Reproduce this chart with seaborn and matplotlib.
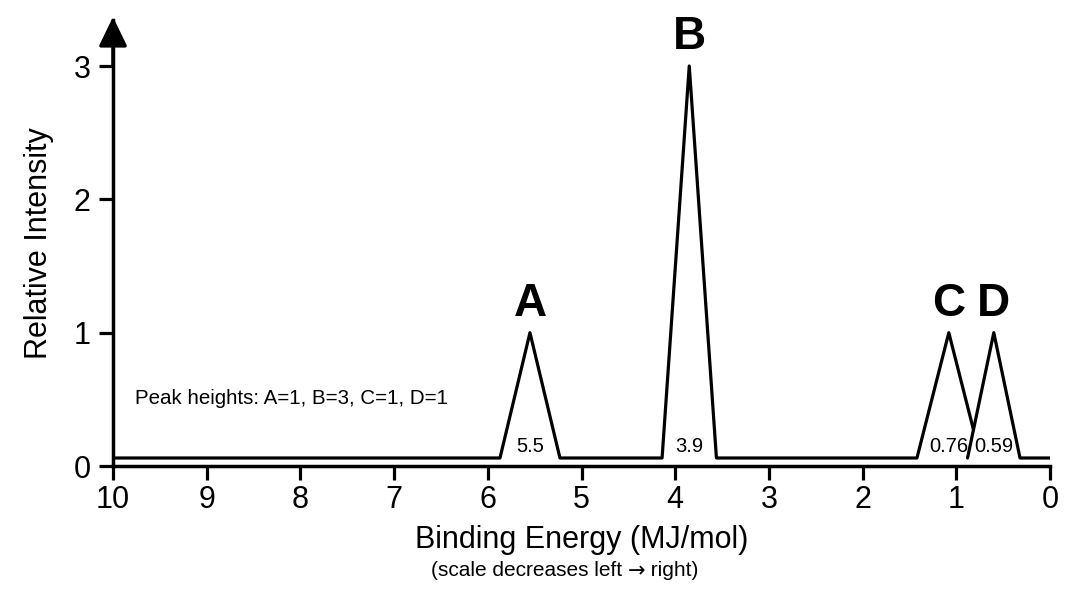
import numpy as np
import pandas as pd
import matplotlib
matplotlib.use("Agg")
import matplotlib.pyplot as plt
import seaborn as sns

# ---- data ----
peak_names = ["A", "B", "C", "D"]
peak_centers = [5.55, 3.85, 1.08, 0.60]      # drawn apex position (MJ/mol)
peak_heights = [1, 3, 1, 1]
peak_half_widths = [0.32, 0.29, 0.34, 0.28]
peak_value_labels = ["5.5", "3.9", "0.76", "0.59"]
baseline_level = 0.06
x_range = [10, 0]
x_ticks = list(range(10, -1, -1))
y_ticks = [0, 1, 2, 3]
note_text = "Peak heights: A=1, B=3, C=1, D=1"

sns.set_theme(style="ticks")
plt.rcParams["font.family"] = ["Liberation Sans", "DejaVu Sans"]

fig = plt.figure(figsize=(10.8, 5.89), dpi=100)
ax = fig.add_axes([113 / 1080, 1 - 466 / 589, (1050 - 113) / 1080, (466 - 20) / 589])

# ---- build the spectrum polylines from the peak arrays ----
order = np.argsort(peak_centers)[::-1]  # left (high x) to right (low x)
segments = []
current = [(x_range[0], baseline_level)]
for k, i in enumerate(order):
    c, h, w = peak_centers[i], peak_heights[i], peak_half_widths[i]
    left, right = c + w, c - w
    current.append((left, baseline_level))
    current.append((c, h))
    if k + 1 < len(order):
        j = order[k + 1]
        c2, h2, w2 = peak_centers[j], peak_heights[j], peak_half_widths[j]
        left2 = c2 + w2
        if left2 > right:
            s1 = (h - baseline_level) / w
            s2 = (h2 - baseline_level) / w2
            xi = (baseline_level + s2 * left2 - h + s1 * c) / (s1 + s2)
            yi = h - s1 * (c - xi)
            current.append((xi, yi))
            segments.append(current)
            current = []
            continue
    current.append((right, baseline_level))
current.append((x_range[1], baseline_level))
segments.append(current)

rows = []
for sid, seg in enumerate(segments):
    for (x, y) in seg:
        rows.append({"seg": sid, "x": x, "y": y})
df = pd.DataFrame(rows)
sns.lineplot(data=df, x="x", y="y", units="seg", estimator=None, sort=False,
             color="black", linewidth=2.3, ax=ax)

# ---- annotations ----
for name, c, h, lab in zip(peak_names, peak_centers, peak_heights, peak_value_labels):
    ax.text(c, h + 0.215, name, ha="center", va="center", fontsize=33,
            fontweight="bold", color="black")
    ax.text(c, 0.145, lab, ha="center", va="center", fontsize=14.5, color="black")

ax.text(9.77, 0.51, note_text, ha="left", va="center", fontsize=14.8, color="black")

# ---- axes ----
ax.set_xlim(x_range[0], x_range[1])
ax.set_ylim(0, 3.345)
ax.set_xticks(x_ticks)
ax.set_xticklabels([str(t) for t in x_ticks])
ax.set_yticks(y_ticks)
ax.set_yticklabels([str(t) for t in y_ticks])
ax.tick_params(axis="both", labelsize=22, width=2.3, length=10, color="black",
               labelcolor="black")
ax.tick_params(axis="x", pad=4)
ax.tick_params(axis="y", pad=6)
sns.despine(ax=ax)
for s in ["left", "bottom"]:
    ax.spines[s].set_linewidth(2.5)
    ax.spines[s].set_color("black")
ax.set_xlabel("Binding Energy (MJ/mol)", fontsize=22, color="black", labelpad=7)
ax.set_ylabel("Relative Intensity", fontsize=22, color="black", labelpad=14)
ax.grid(False)

# arrow on top of y axis
ax.annotate("", xy=(0, 1.007), xytext=(0, 0.9), xycoords="axes fraction",
            textcoords="axes fraction",
            arrowprops=dict(arrowstyle="-|>,head_length=0.6,head_width=0.29",
                            mutation_scale=30, lw=2.5,
                            color="black", shrinkA=0, shrinkB=0),
            annotation_clip=False)

# subtitle with a full-size arrow glyph (DejaVu) between Liberation Sans parts
t1 = fig.text(431 / 1080, 1 - 571 / 589, "(scale decreases left ",
              ha="left", va="center", fontsize=15, color="black")
t2 = ax.annotate("\u2192", xy=(1, 0.5), xycoords=t1, ha="left", va="center",
                 fontsize=15, color="black", family=["DejaVu Sans"])
t3 = ax.annotate(" right)", xy=(1, 0.5), xycoords=t2, ha="left", va="center",
                 fontsize=15, color="black")

fig.savefig("out.png", dpi=100)
